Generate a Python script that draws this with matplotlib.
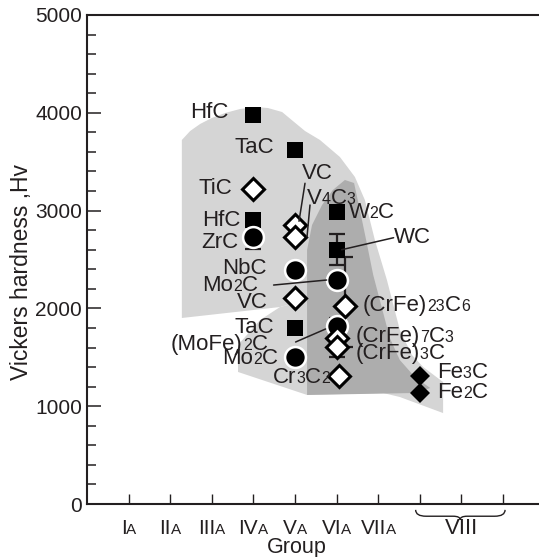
import re
import matplotlib
matplotlib.use("Agg")
import matplotlib.pyplot as plt
from matplotlib.offsetbox import TextArea, HPacker, AnnotationBbox
from matplotlib.path import Path
from matplotlib.patches import PathPatch, Polygon
from matplotlib.transforms import offset_copy

plt.rcParams['font.family'] = ['Liberation Sans', 'DejaVu Sans']

INK = '#231f20'
DPI = 100
PX = 72.0 / DPI          # points per pixel

# ---------------- data ----------------
group_ticks = [1, 2, 3, 4, 5, 6, 7, 8, 9, 10]
group_labels = ['I{A}', 'II{A}', 'III{A}', 'IV{A}', 'V{A}', 'VI{A}', 'VII{A}']
group_viii = 'VIII'

square_names = ['HfC', 'TaC', 'HfC', 'TaC', 'W{2}C', 'WC']
square_x = [4, 5, 4, 5, 6, 6]
square_y = [3980, 3620, 2900, 1800, 2990, 2600]

open_names = ['TiC', 'VC', 'V{4}C{3}', 'VC', '(CrFe){23}C{6}', '(CrFe){7}C{3}',
              '(CrFe){3}C', 'Cr{3}C{2}']
open_x = [4, 5, 5, 5, 6.2, 6, 6, 6.05]
open_y = [3220, 2850, 2730, 2105, 2025, 1700, 1605, 1310]

circle_names = ['ZrC', 'NbC', 'Mo{2}C', '(MoFe){2}C', 'Mo{2}C']
circle_x = [4, 5, 6, 6, 5]
circle_y = [2730, 2390, 2290, 1820, 1500]

fill_d_names = ['Fe{3}C', 'Fe{2}C']
fill_d_x = [8, 8]
fill_d_y = [1310, 1135]

# error bars (x, y, lower, upper)
err_x = [4, 6, 6.2, 6]
err_y = [2730, 2600, 2025, 1700]
err_lo = [120, 160, 420, 200]
err_hi = [120, 160, 500, 200]

# shaded regions (group, hardness)
light_x = [2.28, 2.48, 2.72, 3.00, 3.32, 3.68, 4.04, 4.35, 4.69, 4.95, 5.24, 5.60,
           6.08, 6.44, 6.68, 6.92, 7.21, 7.52, 7.81, 8.08, 8.56, 8.56, 7.52, 7.12,
           5.29, 5.29, 4.64, 2.28]
light_y = [3722, 3814, 3886, 3947, 3998, 4039, 4059, 4049, 4008, 3916, 3814, 3722,
           3548, 3344, 3108, 2699, 2290, 1779, 1524, 1401, 1247, 930, 1094, 1135,
           1115, 2086, 2014, 1902]
low_x = [3.63, 3.63, 4.16, 4.64, 5.29, 5.29]
low_y = [1350, 1626, 1881, 2014, 2086, 1115]
dark_x = [5.29, 5.29, 5.41, 5.65, 5.91, 6.20, 6.42, 6.56, 6.71, 6.88, 7.07, 7.28,
          7.52, 7.88, 8.25, 7.88]
dark_y = [1115, 2597, 2853, 3057, 3211, 3313, 3282, 3006, 2699, 2342, 2035, 1697,
          1472, 1299, 1186, 1135]

# ---------------- layout ----------------
FS = 16
FS_SMALL = 11.5

fig = plt.figure(figsize=(5.39, 5.57), dpi=DPI)
ax = fig.add_axes([87 / 539, 53 / 557, 452 / 539, 489 / 557])
ax.set_xlim(0, 452 / 41.6)
ax.set_ylim(0, 5000)

for s in ['left', 'bottom', 'top']:
    ax.spines[s].set_linewidth(1.5)
    ax.spines[s].set_color(INK)
ax.spines['right'].set_visible(False)

ax.set_yticks(range(0, 5001, 1000))
ax.set_yticks(range(0, 5001, 200), minor=True)
ax.set_xticks(group_ticks)
ax.set_xticklabels([])
ax.tick_params(axis='y', which='major', direction='in', length=10, width=1.1,
               color=INK, labelsize=15, labelcolor=INK, pad=3.6)
ax.tick_params(axis='y', which='minor', direction='in', length=6.3, width=1.1, color=INK)
ax.tick_params(axis='x', which='major', direction='in', length=7, width=1.0, color=INK)


def rich(s, size=FS, small=FS_SMALL):
    kids = []
    for sm, big in re.findall(r'\{([^}]*)\}|([^{]+)', s):
        if sm:
            kids.append(TextArea(sm, textprops=dict(size=small, color=INK)))
        else:
            kids.append(TextArea(big, textprops=dict(size=size, color=INK)))
    return HPacker(children=kids, align='baseline', pad=0, sep=0)


def put(s, x, y, dx, dy, ha, size=FS, small=FS_SMALL):
    ab = AnnotationBbox(rich(s, size, small), (x, y), xybox=(dx * PX, dy * PX),
                        xycoords='data', boxcoords='offset points',
                        box_alignment=(0 if ha == 'left' else (1 if ha == 'right' else 0.5), 0.5),
                        frameon=False, pad=0, annotation_clip=False, zorder=6)
    ax.add_artist(ab)


def leader(x, y, p0, p1):
    t0 = offset_copy(ax.transData, fig=fig, x=p0[0], y=p0[1], units='dots')
    t1 = offset_copy(ax.transData, fig=fig, x=p1[0], y=p1[1], units='dots')
    ax.annotate('', xy=(x, y), xycoords=t0, xytext=(x, y), textcoords=t1,
                arrowprops=dict(arrowstyle='-', shrinkA=0, shrinkB=0, lw=1.1, color=INK),
                annotation_clip=False, zorder=5)


# shaded regions
LIGHT = '#d5d5d5'
DARK = '#adadad'
ax.add_patch(Polygon(list(zip(light_x, light_y)), closed=True, fc=LIGHT, ec='none', zorder=0))
ax.add_patch(Polygon(list(zip(low_x, low_y)), closed=True, fc=LIGHT, ec='none', zorder=0))
ax.add_patch(Polygon(list(zip(dark_x, dark_y)), closed=True, fc=DARK, ec='none', zorder=0.5))

# error bars
ax.errorbar(err_x, err_y, yerr=[err_lo, err_hi], fmt='none', ecolor=INK,
            elinewidth=1.6, capsize=6, capthick=1.6, zorder=2)

# markers
ax.plot(square_x, square_y, 's', ms=12, mfc='black', mec='black', mew=0, ls='none', zorder=3)
ax.plot(circle_x, circle_y, 'o', ms=15, mfc='black', mec='white', mew=1.8, ls='none', zorder=4)
ax.plot(open_x, open_y, 'D', ms=11, mfc='white', mec='black', mew=2.2, ls='none', zorder=4)
ax.plot(fill_d_x, fill_d_y, 'D', ms=10.5, mfc='black', mec='black', mew=0, ls='none', zorder=4)

# labels: (dx_px, dy_px, ha) relative to the marker
sq_pos = [(-25, 2, 'right'), (-21, 2, 'right'), (-13, 0, 'right'), (-21, 0, 'right'),
          (12, -1, 'left'), (57, 12, 'left')]
op_pos = [(-21, 1, 'right'), (7, 52, 'left'), (12, 39, 'left'), (-27, -4, 'right'),
          (18, 0, 'left'), (19, 1, 'left'), (19, -6, 'left'), (-9, -2, 'right')]
ci_pos = [(-15, -5, 'right'), (-28, 2, 'right'), (-79, -5, 'right'), (-69, -18, 'right'),
          (-17, -1, 'right')]
fd_pos = [(17, 3, 'left'), (17, 0, 'left')]

for names, xs, ys, pos in [(square_names, square_x, square_y, sq_pos),
                           (open_names, open_x, open_y, op_pos),
                           (circle_names, circle_x, circle_y, ci_pos),
                           (fill_d_names, fill_d_x, fill_d_y, fd_pos)]:
    for n, x, y, (dx, dy, ha) in zip(names, xs, ys, pos):
        put(n, x, y, dx, dy, ha)

# leader lines (pixel offsets from the marker)
leader(square_x[5], square_y[5], (5, 0), (57, 12))
leader(open_x[1], open_y[1], (4, 4), (10, 42))
leader(open_x[2], open_y[2], (12, 0), (15, 32))
leader(circle_x[2], circle_y[2], (-63, -5), (-10, 0))
leader(circle_x[3], circle_y[3], (-41, -16), (-11, -3))

# group tick labels
for x, lab in zip(group_ticks, group_labels):
    put(lab, x, 0, 0, -24, 'center', size=15, small=11)
put(group_viii, 9.0, 0, 0, -24, 'center', size=16, small=11)

# brace under VIII
y_top, y_mid, y_tip = -60, -125, -160
verts = [(7.9, y_top), (7.9, y_mid), (8.15, y_mid), (8.8, y_mid),
         (8.97, y_mid), (8.97, y_tip), (8.97, y_mid), (9.14, y_mid),
         (9.8, y_mid), (10.05, y_mid), (10.05, y_top)]
codes = [Path.MOVETO, Path.CURVE3, Path.CURVE3, Path.LINETO,
         Path.CURVE3, Path.CURVE3, Path.CURVE3, Path.CURVE3,
         Path.LINETO, Path.CURVE3, Path.CURVE3]
ax.add_patch(PathPatch(Path(verts, codes), fc='none', ec=INK, lw=1.0, clip_on=False))

fig.text(297 / 539, 1 - 548 / 557, 'Group', ha='center', va='center', size=15.5, color=INK)
fig.text(22 / 539, 1 - 272 / 557, 'Vickers hardness ,Hv', ha='center', va='center',
         rotation=90, size=16.5, color=INK)

fig.savefig('out.png', dpi=DPI)
